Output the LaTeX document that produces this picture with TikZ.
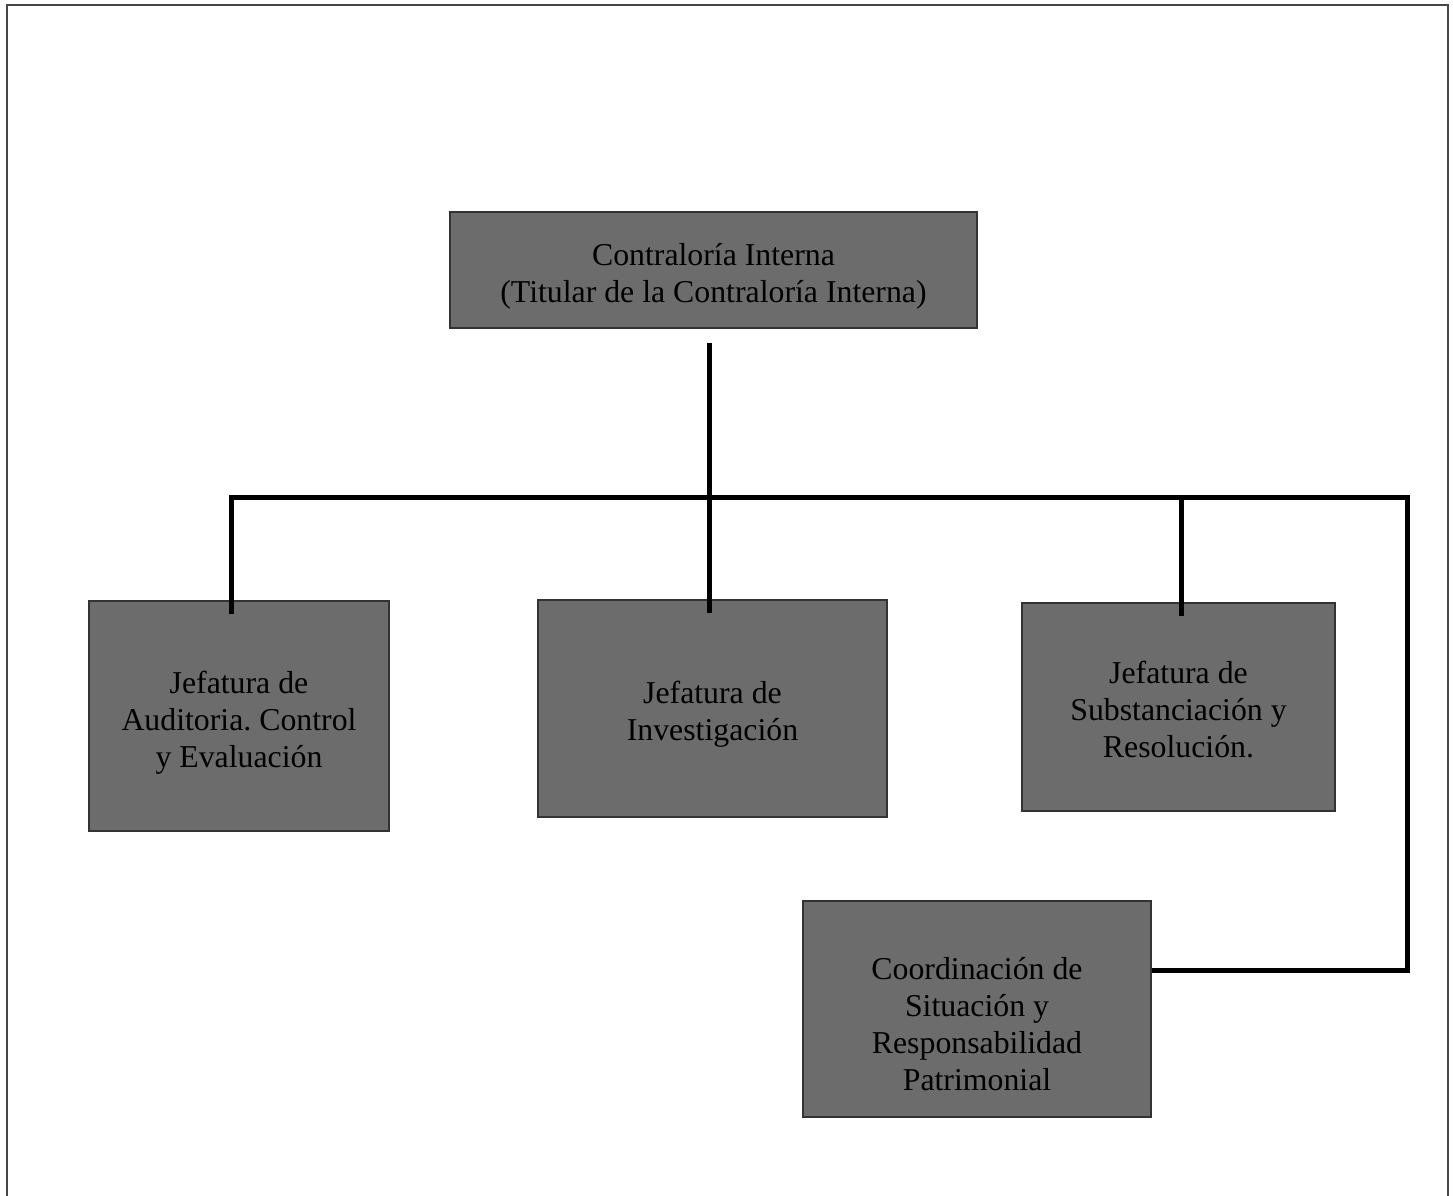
\documentclass[tikz,border=0pt]{standalone}
\usepackage{fontspec}
\setmainfont{Liberation Serif}
\frenchspacing
\definecolor{boxgray}{RGB}{108,108,108}
\definecolor{framegray}{RGB}{70,70,70}
\newcommand{\boxlines}[2]{\raisebox{#1}[\height][\depth]{\begin{tabular}{@{}c@{}}#2\end{tabular}}}
\begin{document}
\begin{tikzpicture}[x=1pt,y=-1pt,
  orgbox/.style={draw=black!80,line width=1.2pt,fill=boxgray,align=center,
    font=\fontsize{31.8}{37}\selectfont\frenchspacing,inner sep=0pt},
  link/.style={line width=5pt,black}]
\useasboundingbox (0,0) rectangle (1453,1196);
\draw[framegray,line width=2pt] (7,1196) -- (7,5) -- (1448,5) -- (1448,1196);
\node[orgbox,minimum width=527pt,minimum height=116pt] (top) at (713.5,270) {\boxlines{-6.5pt}{Contraloría Interna\\(Titular de la Contraloría Interna)}};
\node[orgbox,minimum width=300pt,minimum height=230pt] (aud) at (239,716) {\boxlines{-7pt}{Jefatura de\\Auditoria. Control\\y Evaluación}};
\node[orgbox,minimum width=349pt,minimum height=217pt] (inv) at (712.5,708.5) {\boxlines{-6pt}{Jefatura de\\Investigación}};
\node[orgbox,minimum width=313pt,minimum height=208pt] (sub) at (1178.5,707) {\boxlines{-6pt}{Jefatura de\\Substanciación y\\Resolución.}};
\node[orgbox,minimum width=348pt,minimum height=216pt] (coo) at (977,1009) {\boxlines{-19pt}{Coordinación de\\Situación y\\Responsabilidad\\Patrimonial}};
\coordinate (t0) at (709,343);
\coordinate (bl) at (231,497);
\coordinate (br) at (1181,497);
\coordinate (be) at (1407,497);
\coordinate (ce) at (1407,970);
\coordinate (ae) at (231,614);
\coordinate (ie) at (709,613);
\coordinate (se) at (1181,616);
\coordinate (cc) at (coo.east |- ce);
\draw[link] (t0) -- (ie);
\draw[link] (ae) -- (bl) -- (be) -- (ce) -- (cc);
\draw[link] (br) -- (se);
\end{tikzpicture}
\end{document}
